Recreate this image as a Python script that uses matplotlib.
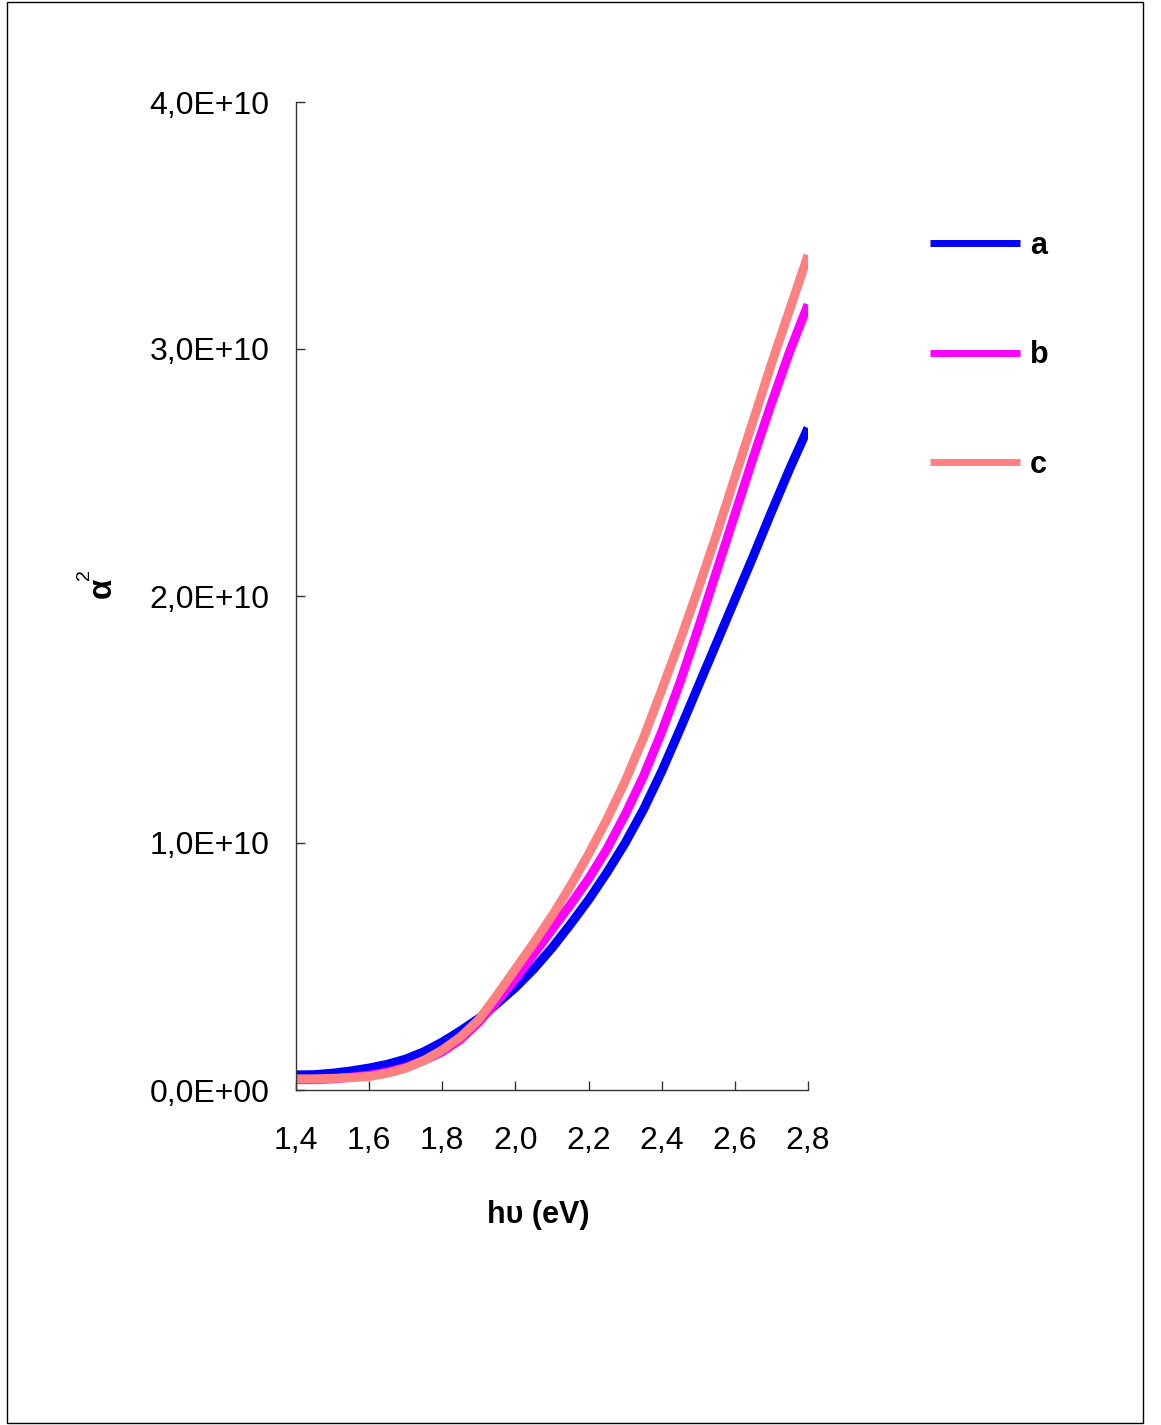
import numpy as np
import matplotlib
matplotlib.use('Agg')
import matplotlib.pyplot as plt
from matplotlib.patches import Rectangle
from matplotlib.ticker import FuncFormatter, MultipleLocator

plt.rcParams['font.family'] = ['Liberation Sans', 'DejaVu Sans']

# photon energy (eV)
energy = [1.40, 1.45, 1.50, 1.55, 1.60, 1.65, 1.70, 1.75, 1.80, 1.85, 1.90, 1.95,
          2.00, 2.05, 2.10, 2.15, 2.20, 2.25, 2.30, 2.35, 2.40, 2.45, 2.50, 2.55,
          2.60, 2.65, 2.70, 2.75, 2.80]
# alpha^2 values (units of 1e10)
alpha_a = [0.061, 0.062, 0.068, 0.077, 0.089, 0.104, 0.125, 0.155, 0.194, 0.240, 0.290, 0.350,
           0.415, 0.490, 0.575, 0.670, 0.770, 0.880, 1.000, 1.135, 1.290, 1.460, 1.635, 1.810,
           1.985, 2.160, 2.340, 2.515, 2.680]
alpha_b = [0.042, 0.042, 0.045, 0.052, 0.060, 0.073, 0.092, 0.120, 0.155, 0.205, 0.275, 0.360,
           0.450, 0.550, 0.650, 0.750, 0.855, 0.975, 1.115, 1.270, 1.450, 1.650, 1.870, 2.100,
           2.330, 2.560, 2.780, 2.990, 3.180]
alpha_c = [0.045, 0.045, 0.047, 0.050, 0.055, 0.068, 0.088, 0.120, 0.162, 0.215, 0.285, 0.385,
           0.490, 0.595, 0.705, 0.825, 0.955, 1.095, 1.250, 1.425, 1.620, 1.820, 2.030, 2.250,
           2.480, 2.710, 2.940, 3.160, 3.380]
labels = ['a', 'b', 'c']
colors = ['#0000FF', '#FF00FF', '#FF8080']

fig = plt.figure(figsize=(11.61, 14.25), dpi=100)
ax = fig.add_axes([296/1161, 1 - 1090/1425, 512/1161, 988/1425])

for vals, lab, col in zip([alpha_a, alpha_b, alpha_c], labels, colors):
    ax.plot(energy, np.array(vals) * 1e10, color=col, lw=6.5, label=lab,
            solid_capstyle='butt', solid_joinstyle='round')

ax.set_xlim(1.4, 2.8)
ax.set_ylim(0, 4e10)
ax.xaxis.set_major_locator(MultipleLocator(0.2))
ax.yaxis.set_major_locator(MultipleLocator(1e10))


def sci(v, pos):
    if v == 0:
        return '0,0E+00'
    e = int(np.floor(np.log10(abs(v))))
    return f'{v / 10**e:.1f}'.replace('.', ',') + f'E+{e:02d}'


ax.yaxis.set_major_formatter(FuncFormatter(sci))
ax.xaxis.set_major_formatter(FuncFormatter(lambda v, p: f'{v:.1f}'.replace('.', ',')))

for s in ['top', 'right']:
    ax.spines[s].set_visible(False)
for s in ['left', 'bottom']:
    ax.spines[s].set_color('#333333')
    ax.spines[s].set_linewidth(1.0)

ax.tick_params(axis='x', direction='in', length=6.5, width=1, color='#333333',
               labelsize=23, pad=26)
ax.tick_params(axis='y', direction='in', length=6.5, width=1, color='#333333',
               labelsize=23, pad=19)

ax.set_xlabel('hυ (eV)', fontsize=22, fontweight='bold')
ax.xaxis.set_label_coords((538 - 296) / 512, (1090 - 1200) / 988)
ax.set_ylabel('α', fontsize=24, fontweight='bold', va='center')
ax.yaxis.set_label_coords((102 - 296) / 512, (1090 - 588) / 988)
ax.annotate('2', xy=((84 - 296) / 512, (1090 - 575) / 988), xycoords='axes fraction',
            rotation=90, fontsize=14, ha='center', va='center')

leg = ax.legend(loc='upper left', bbox_to_anchor=(930/1161, 1 - 231/1425),
                bbox_transform=fig.transFigure, frameon=False,
                prop={'size': 22, 'weight': 'bold'}, handlelength=2.94,
                handletextpad=0.33, labelspacing=2.6, borderpad=0, borderaxespad=0)
for ln in leg.get_lines():
    ln.set_linewidth(5)

fig.add_artist(Rectangle((7/1161, 2/1425), 1136/1161, 1421/1425,
                         transform=fig.transFigure, fill=False,
                         edgecolor='black', lw=1))

fig.savefig('out.png', dpi=100)
